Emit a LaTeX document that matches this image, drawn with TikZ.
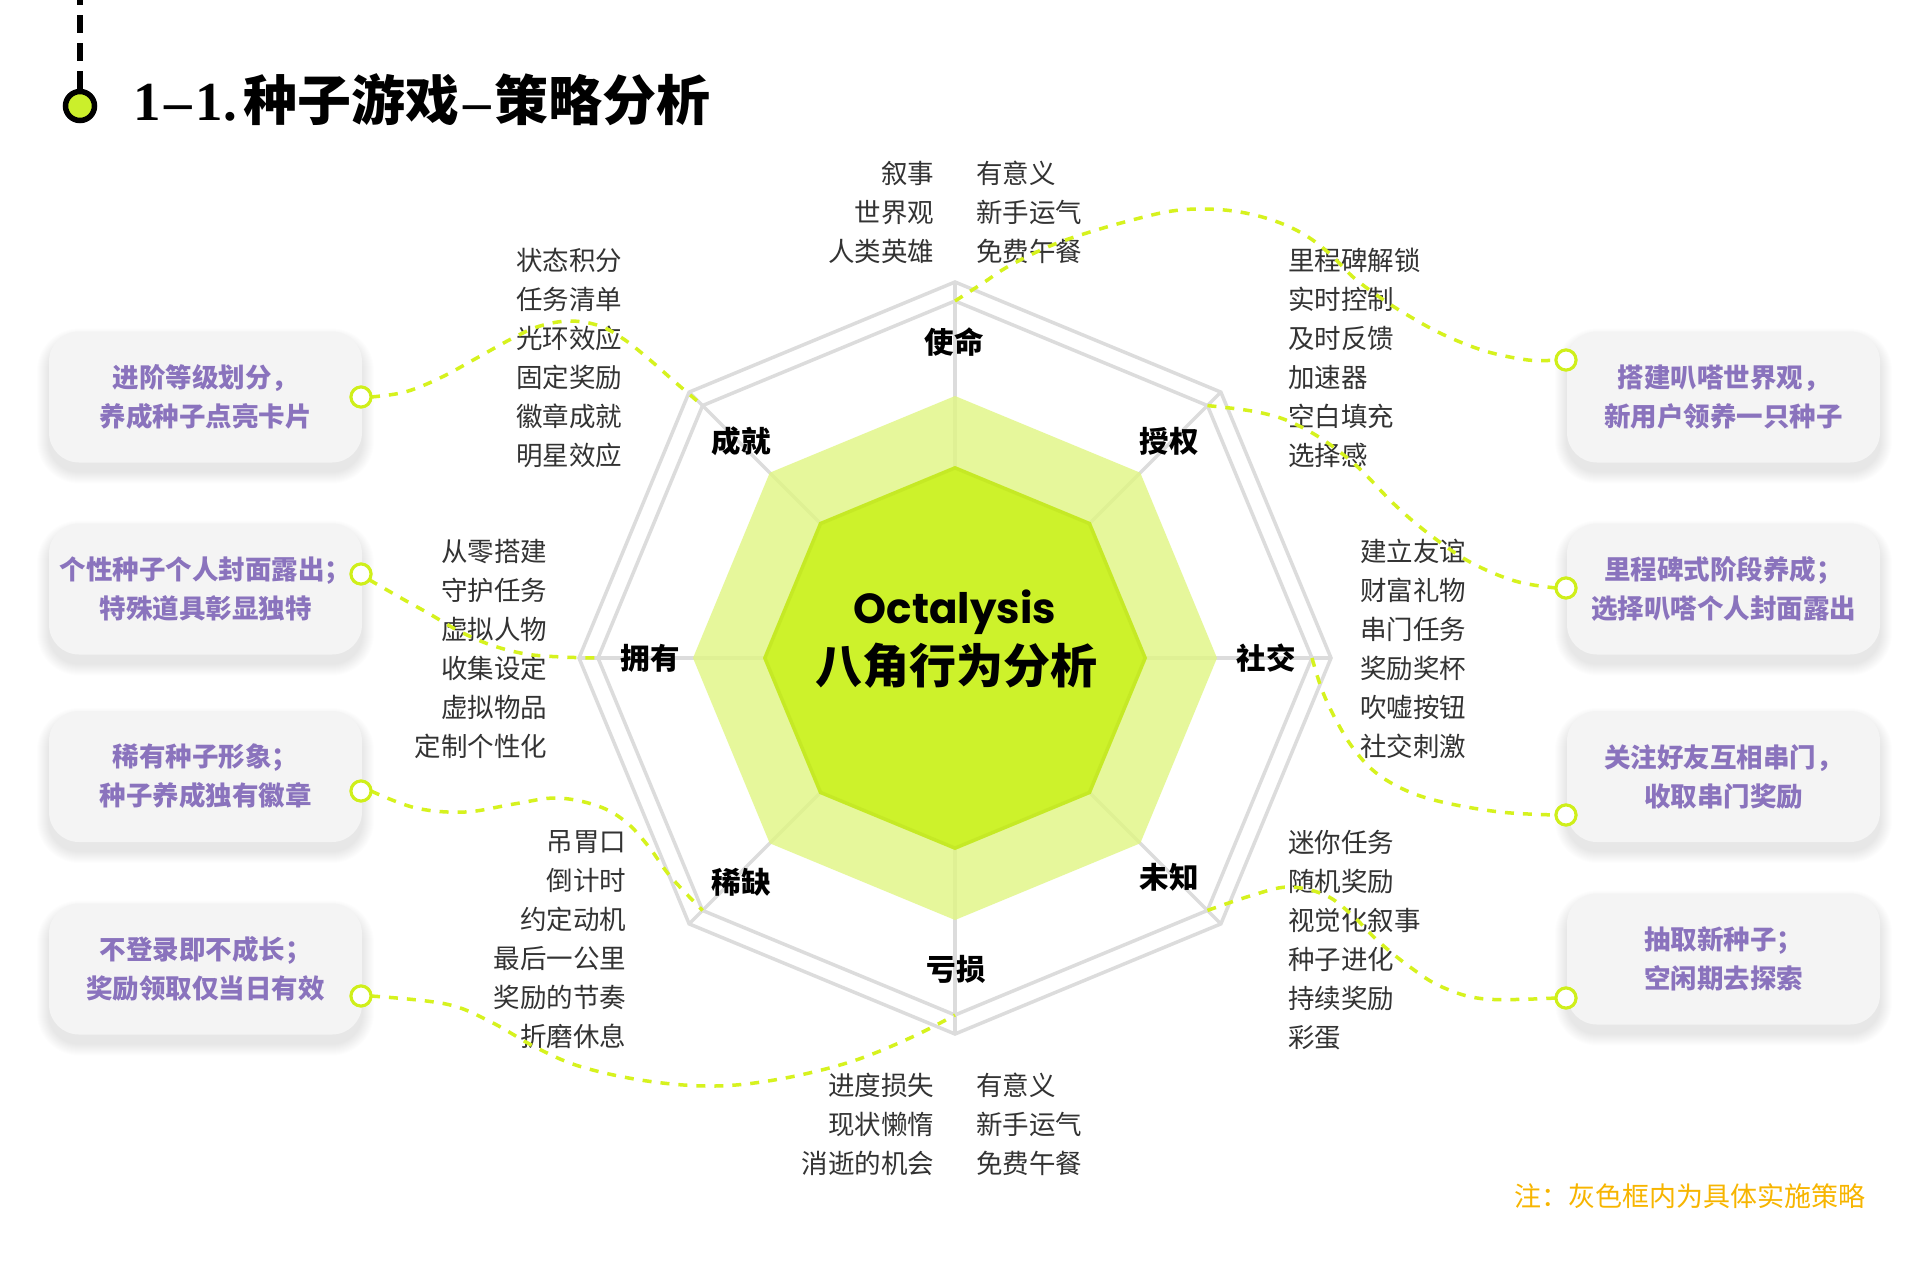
\documentclass[tikz,border=0pt]{standalone}
\usepackage{fontspec}
\setmainfont{Noto Sans CJK SC}
\newfontfamily\pop{Poppins}
\newfontfamily\tms{Liberation Serif}
\usetikzlibrary{calc}
\definecolor{darkg}{HTML}{CDF22B}
\definecolor{lightg}{HTML}{E0F682}
\definecolor{rimg}{HTML}{B8DB1C}
\definecolor{grayline}{HTML}{DCDCDC}
\definecolor{dashg}{HTML}{D6F21E}
\definecolor{ringg}{HTML}{CFEF1A}
\definecolor{boxbg}{HTML}{F4F4F4}
\definecolor{purp}{HTML}{8A73BD}
\definecolor{txt}{HTML}{333333}
\definecolor{notec}{HTML}{F7B500}
\definecolor{titleg}{HTML}{CBEF2B}
\begin{document}
\begin{tikzpicture}[x=1pt,y=-1pt,
  every node/.style={inner sep=0pt, outer sep=0pt},
  cat/.style={font=\fontsize{29.5}{32}\selectfont\bfseries, text=black},
  lst/.style={font=\fontsize{26.5}{39}\selectfont, text=txt},
  boxtxt/.style={font=\fontsize{26.5}{39}\selectfont\bfseries, text=purp, align=center},
  sbox/.style={fill=boxbg, rounded corners=30pt, minimum width=313pt, minimum height=131pt},
  ring/.style={circle, draw=ringg, line width=3pt, fill=white, minimum size=20pt},
  conn/.style={draw=dashg, line width=3.5pt, dash pattern=on 9pt off 9pt},
  gl/.style={draw=grayline, line width=3.5pt},
  tdot/.style={circle, draw=black, line width=5.5pt, fill=titleg, minimum size=29pt},
]
\useasboundingbox (0,0) rectangle (1920,1275);
\fill[white] (0,0) rectangle (1920,1275);

% ---------- title ----------
\coordinate (ttop) at (80,-13);
\node[tdot] (tdot) at (80,106) {};
\draw[black, line width=6pt, dash pattern=on 18pt off 10pt] (ttop) -- (tdot.north);
\node[anchor=west] (title) at (133,100) {{\tms\bfseries\fontsize{55}{60}\selectfont 1\kern4pt–\kern4pt1.\kern6pt}{\bfseries\fontsize{54}{60}\selectfont 种子游戏}{\tms\bfseries\fontsize{55}{60}\selectfont\kern4pt–\kern4pt}{\bfseries\fontsize{54}{60}\selectfont 策略分析}};

% ---------- octagon ----------
\coordinate (O) at (955,658);
\foreach \i in {0,...,7}{
  \pgfmathsetmacro\a{90-45*\i}
  \coordinate (Vo\i) at ({955+376*cos(\a)},{658-376*sin(\a)});
  \coordinate (Vi\i) at ({955+357*cos(\a)},{658-357*sin(\a)});
  \coordinate (Vl\i) at ({955+262*cos(\a)},{658-262*sin(\a)});
  \coordinate (Vd\i) at ({955+192*cos(\a)},{658-192*sin(\a)});
}
\draw[gl] (Vo0)--(Vo1)--(Vo2)--(Vo3)--(Vo4)--(Vo5)--(Vo6)--(Vo7)--cycle;
\draw[gl] (Vi0)--(Vi1)--(Vi2)--(Vi3)--(Vi4)--(Vi5)--(Vi6)--(Vi7)--cycle;
\foreach \i in {0,...,7} \draw[gl] (O)--(Vo\i);
\fill[lightg, opacity=0.8] (Vl0)--(Vl1)--(Vl2)--(Vl3)--(Vl4)--(Vl5)--(Vl6)--(Vl7)--cycle;
\fill[darkg] (Vd0)--(Vd1)--(Vd2)--(Vd3)--(Vd4)--(Vd5)--(Vd6)--(Vd7)--cycle;
\begin{scope}
\clip (Vd0)--(Vd1)--(Vd2)--(Vd3)--(Vd4)--(Vd5)--(Vd6)--(Vd7)--cycle;
\draw[rimg, line width=7pt, opacity=0.35] (Vd0)--(Vd1)--(Vd2)--(Vd3)--(Vd4)--(Vd5)--(Vd6)--(Vd7)--cycle;
\end{scope}

\node (oct) at (955,612) {\pop\bfseries\fontsize{42}{46}\selectfont Octalysis};
\node (octcn) at (956,666) {\bfseries\fontsize{47}{50}\selectfont 八角行为分析};

% ---------- categories ----------
\node[cat] (k0) at (954,342) {使命};
\node[cat] (k1) at (1169,441) {授权};
\node[cat] (k2) at (1266,658) {社交};
\node[cat] (k3) at (1169,877) {未知};
\node[cat] (k4) at (956,969) {亏损};
\node[cat] (k5) at (741,882) {稀缺};
\node[cat] (k6) at (650,658) {拥有};
\node[cat] (k7) at (741,441) {成就};

% ---------- lists ----------
\node[lst, align=right, anchor=east] (t0a) at (934,212) {叙事\\世界观\\人类英雄};
\node[lst, align=left, anchor=west] (t0b) at (976,212) {有意义\\新手运气\\免费午餐};
\node[lst, align=right, anchor=east] (t4a) at (934,1124) {进度损失\\现状懒惰\\消逝的机会};
\node[lst, align=left, anchor=west] (t4b) at (976,1124) {有意义\\新手运气\\免费午餐};
\node[lst, align=right, anchor=east] (t7) at (622,357.5) {状态积分\\任务清单\\光环效应\\固定奖励\\徽章成就\\明星效应};
\node[lst, align=right, anchor=east] (t6) at (547,649) {从零搭建\\守护任务\\虚拟人物\\收集设定\\虚拟物品\\定制个性化};
\node[lst, align=right, anchor=east] (t5) at (626,940) {吊胃口\\倒计时\\约定动机\\最后一公里\\奖励的节奏\\折磨休息};
\node[lst, align=left, anchor=west] (t1) at (1288,357.5) {里程碑解锁\\实时控制\\及时反馈\\加速器\\空白填充\\选择感};
\node[lst, align=left, anchor=west] (t2) at (1360,649) {建立友谊\\财富礼物\\串门任务\\奖励奖杯\\吹嘘按钮\\社交刺激};
\node[lst, align=left, anchor=west] (t3) at (1288,940) {迷你任务\\随机奖励\\视觉化叙事\\种子进化\\持续奖励\\彩蛋};

% ---------- box shadows ----------
\foreach \cx/\cy in {205.5/397, 205.5/589, 205.5/776.5, 205.5/969, 1723.5/397, 1723.5/589, 1723.5/776.5, 1723.5/959}{
  \foreach \k in {1,...,12}{
    \pgfmathsetmacro\rr{30+\k}
    \fill[black, opacity=0.007, rounded corners=\rr pt] ({\cx-156.5-\k},{\cy-65.5-\k+9}) rectangle ({\cx+156.5+\k},{\cy+65.5+\k+9});
  }
}

% ---------- boxes ----------
\node[sbox, boxtxt] (L1) at (205.5,397) {进阶等级划分，\\养成种子点亮卡片};
\node[sbox, boxtxt] (L2) at (205.5,589) {个性种子个人封面露出；\\特殊道具彰显独特};
\node[sbox, boxtxt] (L3) at (205.5,776.5) {稀有种子形象；\\种子养成独有徽章};
\node[sbox, boxtxt] (L4) at (205.5,969) {不登录即不成长；\\奖励领取仅当日有效};
\node[sbox, boxtxt] (R1) at (1723.5,397) {搭建叭嗒世界观，\\新用户领养一只种子};
\node[sbox, boxtxt] (R2) at (1723.5,589) {里程碑式阶段养成；\\选择叭嗒个人封面露出};
\node[sbox, boxtxt] (R3) at (1723.5,776.5) {关注好友互相串门，\\收取串门奖励};
\node[sbox, boxtxt] (R4) at (1723.5,959) {抽取新种子；\\空闲期去探索};

% ---------- rings ----------
\node[ring] (cL1) at (361,397) {};
\node[ring] (cL2) at (361,574) {};
\node[ring] (cL3) at (361,791) {};
\node[ring] (cL4) at (361,996) {};
\node[ring] (cR1) at (1566,360) {};
\node[ring] (cR2) at (1566,588) {};
\node[ring] (cR3) at (1566,815) {};
\node[ring] (cR4) at (1566,998) {};

% ---------- connectors ----------
\draw[conn] plot[smooth, tension=0.6] coordinates {(Vi0) (983,283) (1009,266) (1050,246) (1090,232) (1136,219) (1172,211) (1205,209) (1240,212) (1275,221) (1305,235) (1330,254) (1353,277) (1378,296) (1404,313) (1442,334) (1485,351) (1528,360) (cR1.west)};
\draw[conn] plot[smooth, tension=0.6] coordinates {(Vi1) (1238,409) (1262,413) (1286,420) (1314,434) (1340,452) (1363,472) (1395,505) (1429,534) (1470,562) (1515,581) (cR2.west)};
\draw[conn] plot[smooth, tension=0.6] coordinates {(Vi2) (1322,690) (1336,720) (1353,748) (1375,772) (1405,790) (1442,802) (1500,812) (cR3.west)};
\draw[conn] plot[smooth, tension=0.6] coordinates {(Vi3) (1250,896) (1288,887) (1325,895) (1352,915) (1378,941) (1410,967) (1442,987) (1485,999) (cR4.west)};
\draw[conn] plot[smooth, tension=0.6] coordinates {(cL1.east) (405,392) (440,378) (475,359) (513,338) (540,326) (570,321) (600,326) (625,340) (650,360) (675,382) (Vi7)};
\draw[conn] plot[smooth, tension=0.6] coordinates {(cL2.-35) (401,598) (428,613) (459,631) (491,645) (526,654) (562,657) (Vi6)};
\draw[conn] plot[smooth, tension=0.6] coordinates {(cL3.east) (416,808) (465,812) (514,804) (557,798) (598,806) (626,822) (649,847) (670,876) (Vi5)};
\draw[conn] plot[smooth, tension=0.6] coordinates {(cL4.east) (446,1004) (491,1022) (537,1048) (582,1067) (647,1081) (715,1086) (780,1079) (850,1062) (910,1038) (Vi4)};

% redraw rings on top
\foreach \n in {cL1,cL2,cL3,cL4,cR1,cR2,cR3,cR4}
  \draw[ringg, line width=3pt, fill=white] (\n.center) circle (10pt);

% ---------- note ----------
\node[anchor=east, text=notec, font=\fontsize{27}{30}\selectfont] (note) at (1865,1196) {注：灰色框内为具体实施策略};
\end{tikzpicture}
\end{document}
